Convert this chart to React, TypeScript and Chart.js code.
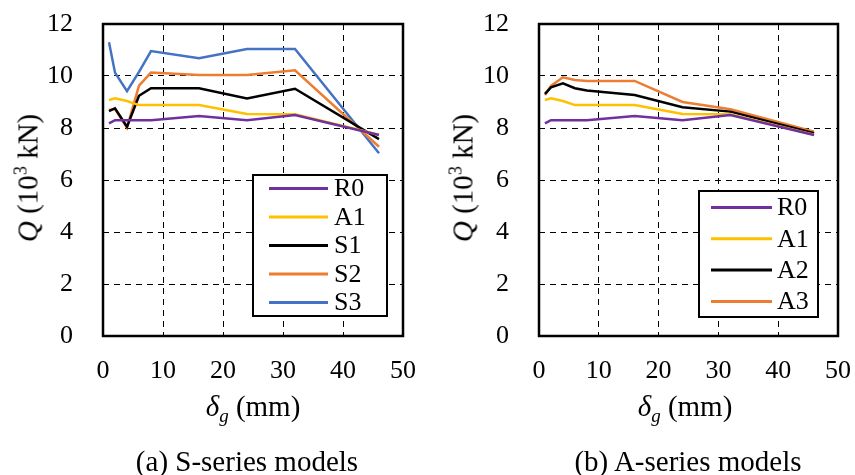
import React, { useEffect, useRef } from "react";
import { Chart, registerables } from "chart.js";
Chart.register(...registerables);

// ---- data ----
const deltaG = [1, 2, 4, 6, 8, 16, 24, 32, 46];
const R0 = [8.18, 8.3, 8.3, 8.3, 8.3, 8.46, 8.3, 8.5, 7.73];
const A1 = [9.08, 9.14, 9.04, 8.88, 8.88, 8.88, 8.54, 8.53, 7.74];
const S1 = [8.65, 8.76, 8.05, 9.24, 9.53, 9.53, 9.14, 9.51, 7.57];
const S2 = [8.69, 8.73, 8.01, 9.63, 10.13, 10.04, 10.04, 10.22, 7.28];
const S3 = [11.3, 10.13, 9.42, 10.16, 10.96, 10.68, 11.04, 11.04, 7.03];
const A2 = [9.31, 9.56, 9.72, 9.53, 9.44, 9.27, 8.8, 8.63, 7.8];
const A3 = [9.27, 9.62, 9.95, 9.85, 9.81, 9.81, 9.0, 8.72, 7.86];

const seriesLeft = ["R0", "A1", "S1", "S2", "S3"];
const seriesRight = ["R0", "A1", "A2", "A3"];
const xTickValues = [0, 10, 20, 30, 40, 50];
const yTickValues = [0, 2, 4, 6, 8, 10, 12];

const VALUES: Record<string, number[]> = { R0, A1, S1, S2, S3, A2, A3 };
const COLORS: Record<string, string> = {
  R0: "#7030A0",
  A1: "#FFC000",
  S1: "#000000",
  A2: "#000000",
  S2: "#ED7D31",
  A3: "#ED7D31",
  S3: "#4472C4",
};

const FONT = "'Liberation Serif', 'Times New Roman', serif";

const framePlugin = {
  id: "frame",
  afterDatasetsDraw(chart: any) {
    const { ctx, chartArea: a } = chart;
    ctx.save();
    ctx.strokeStyle = "#000";
    ctx.lineWidth = 2.5;
    ctx.setLineDash([]);
    ctx.strokeRect(a.left, a.top, a.right - a.left, a.bottom - a.top);
    ctx.restore();
  },
};

const boxLegendPlugin = {
  id: "boxLegend",
  afterDraw(chart: any, _args: any, opts: any) {
    const { ctx } = chart;
    const b = opts.box;
    ctx.save();
    ctx.fillStyle = "#fff";
    ctx.fillRect(b.x1, b.y1, b.x2 - b.x1, b.y2 - b.y1);
    ctx.strokeStyle = "#000";
    ctx.lineWidth = 2;
    ctx.setLineDash([]);
    ctx.strokeRect(b.x1, b.y1, b.x2 - b.x1, b.y2 - b.y1);
    ctx.font = `26px ${FONT}`;
    ctx.textBaseline = "middle";
    ctx.textAlign = "left";
    chart.data.datasets.forEach((ds: any, i: number) => {
      const y = opts.rowY + i * opts.rowStep;
      ctx.strokeStyle = ds.borderColor;
      ctx.lineWidth = 3;
      ctx.beginPath();
      ctx.moveTo(opts.lineX1, y);
      ctx.lineTo(opts.lineX2, y);
      ctx.stroke();
      ctx.fillStyle = "#000";
      ctx.fillText(ds.label, opts.textX, y + 1);
    });
    ctx.restore();
  },
};

function makeConfig(names: string[], yAxisWidth: number, padRight: number, legend: any) {
  return {
    type: "line" as const,
    data: {
      datasets: names.map((n) => ({
        label: n,
        data: deltaG.map((x, i) => ({ x, y: VALUES[n][i] })),
        borderColor: COLORS[n],
        backgroundColor: COLORS[n],
        borderWidth: 2.5,
        pointRadius: 0,
        tension: 0,
        fill: false,
      })),
    },
    options: {
      animation: false as const,
      responsive: false,
      maintainAspectRatio: false,
      layout: { padding: { left: 0, right: padRight, top: 24, bottom: 0 } },
      plugins: {
        legend: { display: false },
        tooltip: { enabled: false },
        boxLegend: legend,
      },
      scales: {
        x: {
          type: "linear" as const,
          min: 0,
          max: 50,
          afterBuildTicks: (s: any) => {
            s.ticks = xTickValues.map((v) => ({ value: v }));
          },
          afterFit: (s: any) => {
            s.height = 64;
            s.paddingLeft = 0;
            s.paddingRight = 0;
          },
          ticks: { color: "#000", font: { family: FONT, size: 26 }, padding: 20, maxRotation: 0 },
          grid: { color: "#000", lineWidth: 1, drawTicks: false },
          border: { display: false, dash: [6, 5] },
        },
        y: {
          min: 0,
          max: 12,
          afterBuildTicks: (s: any) => {
            s.ticks = yTickValues.map((v) => ({ value: v }));
          },
          afterFit: (s: any) => {
            s.width = yAxisWidth;
            s.paddingTop = 0;
            s.paddingBottom = 0;
          },
          ticks: { color: "#000", font: { family: FONT, size: 26 }, padding: 30 },
          grid: { color: "#000", lineWidth: 1, drawTicks: false },
          border: { display: false, dash: [6, 5] },
        },
      },
    },
    plugins: [framePlugin, boxLegendPlugin],
  };
}

function Panel(props: {
  left: number;
  width: number;
  names: string[];
  yAxisWidth: number;
  padRight: number;
  legend: any;
}) {
  const ref = useRef<HTMLCanvasElement | null>(null);
  useEffect(() => {
    if (!ref.current) return;
    const chart = new Chart(
      ref.current,
      makeConfig(props.names, props.yAxisWidth, props.padRight, props.legend) as any
    );
    return () => chart.destroy();
  }, []);
  return (
    <canvas
      ref={ref}
      width={props.width}
      height={400}
      style={{ position: "absolute", left: props.left, top: 0, width: props.width, height: 400 }}
    />
  );
}

const textStyle: React.CSSProperties = {
  position: "absolute",
  fontFamily: FONT,
  color: "#000",
  whiteSpace: "nowrap",
  lineHeight: 1,
};

function YTitle({ cx, cy }: { cx: number; cy: number }) {
  return (
    <div
      style={{
        ...textStyle,
        fontSize: 29,
        left: cx,
        top: cy,
        transform: "translate(-50%, -50%) rotate(-90deg)",
      }}
    >
      <i>Q</i> (10<sup style={{ fontSize: 18, verticalAlign: 0, position: "relative", top: -11 }}>3</sup> kN)
    </div>
  );
}

function XTitle({ cx, cy }: { cx: number; cy: number }) {
  return (
    <div style={{ ...textStyle, fontSize: 29, left: cx, top: cy, transform: "translate(-50%, -50%)" }}>
      <i>δ</i>
      <sub style={{ fontSize: 19, verticalAlign: 0, position: "relative", top: 6 }}>
        <i>g</i>
      </sub>{" "}
      (mm)
    </div>
  );
}

function Caption({ cx, cy, text }: { cx: number; cy: number; text: string }) {
  return (
    <div style={{ ...textStyle, fontSize: 29, left: cx, top: cy, transform: "translate(-50%, -50%)" }}>
      {text}
    </div>
  );
}

export default function App() {
  return (
    <div style={{ position: "absolute", left: 0, top: 0, width: 855, height: 475, background: "#fff", overflow: "hidden" }}>
      <Panel
        left={0}
        width={427}
        names={seriesLeft}
        yAxisWidth={103}
        padRight={24}
        legend={{
          box: { x1: 253, y1: 175, x2: 387, y2: 316 },
          rowY: 188.5,
          rowStep: 28.5,
          lineX1: 269,
          lineX2: 328,
          textX: 334,
        }}
      />
      <Panel
        left={427}
        width={428}
        names={seriesRight}
        yAxisWidth={112}
        padRight={17}
        legend={{
          box: { x1: 699 - 427, y1: 191, x2: 818 - 427, y2: 317 },
          rowY: 207.5,
          rowStep: 31.3,
          lineX1: 711 - 427,
          lineX2: 772 - 427,
          textX: 777 - 427,
        }}
      />
      <YTitle cx={28} cy={178} />
      <YTitle cx={463} cy={178} />
      <XTitle cx={253} cy={406} />
      <XTitle cx={685} cy={406} />
      <Caption cx={247} cy={461} text="(a) S-series models" />
      <Caption cx={688} cy={461} text="(b) A-series models" />
    </div>
  );
}
